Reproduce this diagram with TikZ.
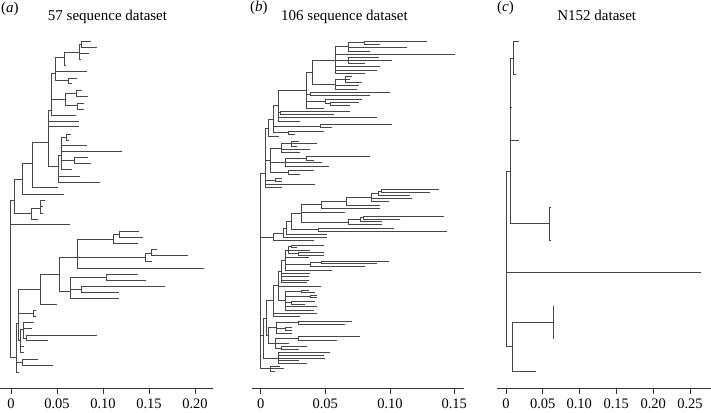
\documentclass[tikz,border=0pt]{standalone}
\usepackage{fontspec}
\setmainfont{Liberation Serif}
\tikzset{
  tr/.style={draw=black!72, line width=0.65pt, line cap=rect},
  ax/.style={draw=black!80, line width=0.6pt},
  tk/.style={font=\fontsize{14.5}{16}\selectfont, anchor=base, inner sep=0pt},
  ttl/.style={font=\fontsize{15}{18}\selectfont, anchor=base, inner sep=0pt},
  plab/.style={font=\fontsize{15}{18}\selectfont, anchor=base west, inner sep=0pt}
}
% horizontal: y, x1, x2 ; vertical: x, y1, y2
\newcommand\TrH[3]{\draw[tr] (#2,#1) -- (#3,#1);}
\newcommand\TrV[3]{\draw[tr] (#1,#2) -- (#1,#3);}
\begin{document}
\begin{tikzpicture}[x=1pt,y=-1pt]
\useasboundingbox (0,0) rectangle (711,412);

% ---------------- titles ----------------
\node[plab] (la) at (1,13) {(\textit{a})};
\node[ttl] (ta) at (107.5,20.5) {57 sequence dataset};
\node[plab] (lb) at (250,12) {(\textit{b})};
\node[ttl] (tb) at (344.5,20.5) {106 sequence dataset};
\node[plab] (lc) at (497,12) {(\textit{c})};
\node[ttl] (tc) at (596.7,20.5) {N152 dataset};

% ---------------- axes ----------------
\draw[ax] (0,388) -- (213,388);
\foreach \v/\x [count=\i] in {0/11,0.05/57,0.10/103,0.15/149,0.20/195}{
  \draw[ax] (\x,388) -- (\x,393.5);
  \node[tk] (xa\i) at (\x,408.5) {\v};
}
\draw[ax] (251.7,388) -- (464,388);
\foreach \v/\x [count=\i] in {0/260.7,0.05/325.3,0.10/390,0.15/454.3}{
  \draw[ax] (\x,388) -- (\x,393.5);
  \node[tk] (xb\i) at (\x,408.5) {\v};
}
\draw[ax] (496.7,388) -- (710.5,388);
\foreach \v/\x [count=\i] in {0/506,0.05/542.7,0.10/579.3,0.15/616.3,0.20/653.3,0.25/690}{
  \draw[ax] (\x,388) -- (\x,393.5);
  \node[tk] (xc\i) at (\x,408.5) {\v};
}

% ================= panel (a) =================
\TrV{10}{200}{357}
\TrH{200}{10}{14}
\TrV{14}{179}{213}
\TrH{179}{14}{22.3}
\TrV{22.3}{163}{194.3}
\TrH{194.3}{22.3}{63.3}
\TrH{163}{22.3}{32.3}
\TrV{32.3}{142}{187.7}
\TrH{187.7}{32.3}{57.7}
\TrH{142}{32.3}{48.3}
% T
\TrV{48.3}{110}{166.7}
\TrH{110}{48.3}{51.7}
\TrH{121}{48.3}{78.3}
\TrH{126}{48.3}{78.3}
\TrH{166.7}{48.3}{58.3}
\TrV{51.7}{73.3}{115}
\TrH{115}{51.7}{76}
\TrH{73.3}{51.7}{55}
\TrH{99}{51.7}{65}
% S1
\TrV{55}{57}{80.7}
\TrH{57}{55}{64.3}
\TrH{71.7}{55}{86.7}
\TrH{80.7}{55}{68.3}
\TrV{68.3}{78.3}{83.3}
\TrH{78.3}{68.3}{76.7}
\TrH{83.3}{68.3}{71.7}
% S2
\TrV{64.3}{52}{65.7}
\TrH{52}{64.3}{79}
\TrH{65.7}{64.3}{65.5}
\TrV{79}{44.5}{59.3}
\TrH{44.5}{79}{81}
\TrH{53.3}{79}{88.3}
\TrH{59.3}{79}{80.7}
\TrV{81}{41}{47.7}
\TrH{41}{81}{90.7}
\TrH{47.7}{81}{96.7}
% S3
\TrV{65}{93.3}{105.7}
\TrH{93.3}{65}{76.7}
\TrV{76.7}{90}{96.7}
\TrH{90}{76.7}{81.7}
\TrH{96.7}{76.7}{87.3}
\TrH{105.7}{65}{77.7}
\TrV{77.7}{103.3}{109}
\TrH{103.3}{77.7}{84}
\TrH{109}{77.7}{84}
% U
\TrV{58.3}{155}{182.3}
\TrH{155}{58.3}{61.7}
\TrH{176.7}{58.3}{80}
\TrH{182.3}{58.3}{100}
\TrV{61.7}{137}{169.3}
\TrH{137}{61.7}{66.7}
\TrV{66.7}{134}{140}
\TrH{134}{66.7}{71}
\TrH{140}{66.7}{68.3}
\TrH{145}{61.7}{86.7}
\TrH{151.7}{61.7}{121.7}
\TrH{160.5}{61.7}{74}
\TrV{74}{157.7}{163.3}
\TrH{157.7}{74}{87.3}
\TrH{163.3}{74}{90.7}
\TrH{169.3}{61.7}{71.7}
% N1 lower
\TrH{213}{14}{31.7}
\TrV{31.7}{208}{219}
\TrH{208}{31.7}{40.7}
\TrV{40.7}{200}{213}
\TrH{200}{40.7}{45}
\TrH{206}{40.7}{42.3}
\TrH{213}{40.7}{43}
\TrH{219}{31.7}{37.3}
\TrH{224}{10}{69.3}
% L
\TrH{357}{10}{16}
\TrV{16}{323}{372}
\TrH{372}{16}{18.3}
\TrH{362}{16}{22.7}
\TrV{22.7}{359}{365}
\TrH{359}{22.7}{37.3}
\TrH{365}{22.7}{52.3}
\TrH{323}{16}{18.3}
% M
\TrV{18.3}{289}{340}
\TrH{313}{18.3}{33.3}
\TrV{33.3}{310.7}{316.7}
\TrH{310.7}{33.3}{36}
\TrH{316.7}{33.3}{36}
\TrH{340}{18.3}{20.7}
\TrV{20.7}{329}{352.7}
\TrH{346.7}{20.7}{23.3}
\TrH{352.7}{20.7}{23.3}
\TrH{329}{20.7}{23.3}
\TrV{23.3}{322.7}{338}
\TrH{322.7}{23.3}{33.3}
\TrH{328.3}{23.3}{31.7}
\TrH{338}{23.3}{26.7}
\TrV{26.7}{335}{340.7}
\TrH{335}{26.7}{96.7}
\TrH{340.7}{26.7}{47.7}
% B
\TrH{289}{18.3}{40}
\TrV{40}{274}{304.3}
\TrH{304.3}{40}{56.7}
\TrH{274}{40}{59.3}
\TrV{59.3}{257}{291}
\TrH{257}{59.3}{77.3}
\TrV{77.3}{239}{268}
\TrH{239}{77.3}{113.3}
\TrV{113.3}{234}{243.3}
\TrH{234}{113.3}{119}
\TrV{119}{231}{237}
\TrH{231}{119}{138.3}
\TrH{237}{119}{142.7}
\TrH{243.3}{113.3}{137.7}
\TrH{257}{77.3}{145}
\TrV{145}{253}{261.7}
\TrH{253}{145}{151.7}
\TrV{151.7}{249.3}{255}
\TrH{249.3}{151.7}{156.7}
\TrH{255}{151.7}{187.3}
\TrH{261.7}{145}{151.7}
\TrH{268}{77.3}{204}
\TrH{291}{59.3}{70}
\TrV{70}{277}{298.3}
\TrH{277}{70}{106}
\TrV{106}{274}{280}
\TrH{274}{106}{137.7}
\TrH{280}{106}{145.7}
\TrH{289}{70}{81.7}
\TrV{81.7}{286}{292}
\TrH{286}{81.7}{165}
\TrH{292}{81.7}{119}
\TrH{298.3}{70}{119}

% ================= panel (b) =================
\TrV{260.7}{173}{368.3}
\TrH{173}{260.7}{265}
% upper group
\TrV{364.3}{41}{44.3}
\TrH{41}{364.3}{427}
\TrH{44.3}{364.3}{380}
\TrV{348.3}{42.7}{51}
\TrH{42.7}{348.3}{364.3}
\TrH{47.7}{348.3}{407}
\TrH{51}{348.3}{370}
\TrV{348.3}{57.7}{63.3}
\TrH{57.7}{348.3}{378.3}
\TrH{60}{348.3}{391.7}
\TrH{63.3}{348.3}{365}
\TrV{335}{46.8}{73.3}
\TrH{46.8}{335}{348.3}
\TrH{54.3}{335}{455}
\TrH{60.5}{335}{348.3}
\TrH{66.7}{335}{380}
\TrH{70}{335}{376.7}
\TrH{73.3}{335}{365}
\TrV{345}{76.7}{82.7}
\TrH{76.7}{345}{351.7}
\TrH{79.3}{345}{350}
\TrH{82.7}{345}{361.7}
\TrV{335}{79.3}{89}
\TrH{79.3}{335}{345}
\TrH{85.7}{335}{358.3}
\TrH{89}{335}{356.7}
\TrV{312.3}{60}{84}
\TrH{60}{312.3}{335}
\TrH{84}{312.3}{335}
\TrV{310}{92.3}{95.7}
\TrH{92.3}{310}{390}
\TrH{95.7}{310}{370}
\TrV{330}{102.3}{105}
\TrH{102.3}{330}{358.3}
\TrH{105}{330}{350}
\TrV{325}{99}{103.7}
\TrH{99}{325}{361.7}
\TrH{103.7}{325}{330}
\TrV{306.7}{72}{108.3}
\TrH{72}{306.7}{312.3}
\TrH{94}{306.7}{310}
\TrH{101.3}{306.7}{325}
\TrH{108.3}{306.7}{323.3}
\TrV{280}{111}{114.3}
\TrH{111}{280}{350}
\TrH{114.3}{280}{333.3}
\TrV{278.3}{90}{121}
\TrH{90}{278.3}{306.7}
\TrH{112.7}{278.3}{280}
\TrH{117.7}{278.3}{376.7}
\TrH{121}{278.3}{300}
\TrV{320}{124.3}{127.7}
\TrH{124.3}{320}{391.7}
\TrH{127.7}{320}{331.7}
\TrV{288.3}{131}{134.3}
\TrH{131}{288.3}{323.3}
\TrH{134.3}{288.3}{295}
\TrV{273.3}{105}{132.7}
\TrH{105}{273.3}{278.3}
\TrH{126}{273.3}{320}
\TrH{132.7}{273.3}{288.3}
\TrV{268.3}{119}{136.7}
\TrH{119}{268.3}{273.3}
\TrH{136.7}{268.3}{278.3}
\TrV{291.7}{141}{146}
\TrH{141}{291.7}{298.3}
\TrH{143.3}{291.7}{316.7}
\TrH{146}{291.7}{296.7}
\TrV{281.7}{143.5}{152.7}
\TrH{143.5}{281.7}{291.7}
\TrH{149.3}{281.7}{310}
\TrH{152.7}{281.7}{300}
\TrV{306.7}{156.7}{160}
\TrH{156.7}{306.7}{370}
\TrH{160}{306.7}{313.3}
\TrV{285}{158.3}{166}
\TrH{158.3}{285}{306.7}
\TrH{162.7}{285}{321.7}
\TrH{166}{285}{328.3}
\TrV{288.3}{170}{174.3}
\TrH{170}{288.3}{313.3}
\TrH{174.3}{288.3}{300}
\TrV{270}{148}{172}
\TrH{148}{270}{281.7}
\TrH{162}{270}{285}
\TrH{172}{270}{288.3}
\TrV{275}{178.3}{181.7}
\TrH{178.3}{275}{281.7}
\TrH{181.7}{275}{281.7}
\TrV{265}{128}{187.7}
\TrH{128}{265}{268.3}
\TrH{160}{265}{270}
\TrH{180}{265}{275}
\TrH{184.3}{265}{315}
\TrH{187.7}{265}{281.7}
% middle group
\TrV{381.7}{189.7}{192.3}
\TrH{189.7}{381.7}{438.3}
\TrH{192.3}{381.7}{430}
\TrV{378.3}{191}{195}
\TrH{191}{378.3}{381.7}
\TrH{195}{378.3}{410}
\TrV{371.7}{193}{201.3}
\TrH{193}{371.7}{378.3}
\TrH{198}{371.7}{411.7}
\TrH{201.3}{371.7}{388.3}
\TrV{346.7}{197}{205}
\TrH{197}{346.7}{371.7}
\TrH{205}{346.7}{380}
\TrV{321.7}{201}{208.3}
\TrH{201}{321.7}{346.7}
\TrH{208.3}{321.7}{380}
\TrV{363.3}{216.3}{219}
\TrH{216.3}{363.3}{443.3}
\TrH{219}{363.3}{400}
\TrV{360}{217.7}{221.7}
\TrH{217.7}{360}{363.3}
\TrH{221.7}{360}{381.7}
\TrV{348.3}{219.7}{224.7}
\TrH{219.7}{348.3}{360}
\TrH{224.7}{348.3}{381.7}
\TrV{318.3}{228.3}{231.3}
\TrH{228.3}{318.3}{393.3}
\TrH{231.3}{318.3}{446.7}
\TrV{301.7}{204.7}{222}
\TrH{204.7}{301.7}{321.7}
\TrH{212.5}{301.7}{345}
\TrH{222}{301.7}{348.3}
\TrV{291.7}{213}{229.8}
\TrH{213}{291.7}{301.7}
\TrH{229.8}{291.7}{318.3}
\TrV{286.7}{221}{234.7}
\TrH{221}{286.7}{291.7}
\TrH{234.7}{286.7}{326.7}
\TrV{283}{228}{237.7}
\TrH{228}{283}{286.7}
\TrH{237.7}{283}{326.7}
\TrV{273.3}{233}{240.7}
\TrH{233}{273.3}{283}
\TrH{240.7}{273.3}{313.3}
\TrH{237.3}{260.7}{273.3}
% lower group
\TrV{291.7}{245}{247.3}
\TrH{245}{291.7}{323.3}
\TrH{247.3}{291.7}{296.7}
\TrV{298.3}{252.3}{255}
\TrH{252.3}{298.3}{323.3}
\TrH{255}{298.3}{323.3}
\TrV{288.3}{246.2}{253.7}
\TrH{246.2}{288.3}{291.7}
\TrH{250}{288.3}{310}
\TrH{253.7}{288.3}{298.3}
\TrV{321.7}{261}{263.3}
\TrH{261}{321.7}{388.3}
\TrH{263.3}{321.7}{376.7}
\TrV{310}{262.2}{266.7}
\TrH{262.2}{310}{321.7}
\TrH{266.7}{310}{365}
\TrV{285}{250}{270}
\TrH{250}{285}{288.3}
\TrH{257.7}{285}{308.3}
\TrH{264.4}{285}{310}
\TrH{270}{285}{331.7}
\TrV{281.7}{260}{282.7}
\TrH{260}{281.7}{285}
\TrH{273.3}{281.7}{310}
\TrH{276.7}{281.7}{308.3}
\TrH{280}{281.7}{308.3}
\TrH{282.7}{281.7}{306.7}
\TrV{301.7}{290}{292.3}
\TrH{290}{301.7}{308.3}
\TrH{292.3}{301.7}{315}
\TrV{310}{295}{297.7}
\TrH{295}{310}{316.7}
\TrH{297.7}{310}{316.7}
\TrV{291.7}{301}{304}
\TrH{301}{291.7}{315}
\TrH{304}{291.7}{305}
\TrV{285}{291.2}{310}
\TrH{291.2}{285}{301.7}
\TrH{296.3}{285}{310}
\TrH{302.5}{285}{291.7}
\TrH{306.7}{285}{316.7}
\TrH{310}{285}{313.3}
\TrV{278.3}{271}{300}
\TrH{271}{278.3}{281.7}
\TrH{286.7}{278.3}{321}
\TrH{300}{278.3}{285}
\TrV{273.3}{285}{316.7}
\TrH{285}{273.3}{278.3}
\TrH{313.3}{273.3}{316.7}
\TrH{316.7}{273.3}{300}
\TrV{298.3}{321}{324}
\TrH{321}{298.3}{351.7}
\TrH{324}{298.3}{345}
\TrV{285}{327.3}{330}
\TrH{327.3}{285}{291.7}
\TrH{330}{285}{291.7}
\TrV{276.7}{322.5}{333.3}
\TrH{322.5}{276.7}{298.3}
\TrH{328.7}{276.7}{285}
\TrH{333.3}{276.7}{291.7}
\TrV{298.3}{336.7}{340}
\TrH{336.7}{298.3}{360}
\TrH{340}{298.3}{336.7}
\TrV{281.7}{346.7}{349.3}
\TrH{346.7}{281.7}{306.7}
\TrH{349.3}{281.7}{298.3}
\TrV{275}{338.3}{348}
\TrH{338.3}{275}{298.3}
\TrH{343.3}{275}{288.3}
\TrH{348}{275}{281.7}
\TrV{268.3}{327}{343}
\TrH{327}{268.3}{276.7}
\TrH{343}{268.3}{275}
\TrV{266}{300}{335}
\TrH{300}{266}{273.3}
\TrH{335}{266}{268.3}
\TrV{278.3}{352.7}{363.3}
\TrH{352.7}{278.3}{330}
\TrH{355.7}{278.3}{323.3}
\TrH{358.3}{278.3}{325}
\TrH{360.7}{278.3}{298.3}
\TrH{363.3}{278.3}{306.7}
\TrV{263.3}{318}{358}
\TrH{318}{263.3}{266}
\TrH{358}{263.3}{278.3}
\TrH{335}{260.7}{263.3}
\TrV{270}{366}{371.7}
\TrH{366}{270}{280}
\TrH{368.3}{270}{283.3}
\TrH{371.7}{270}{275}
\TrH{368.3}{260.7}{270}

% ================= panel (c) =================
\TrV{510}{58.3}{223.3}
\TrH{58.3}{510}{513.3}
\TrV{513.3}{41.7}{74}
\TrH{41.7}{513.3}{518.3}
\TrH{74}{513.3}{516}
\TrH{107.3}{510}{511.5}
\TrH{140.7}{510}{518.3}
\TrH{223.3}{510}{549.3}
\TrV{549.3}{207.3}{240}
\TrH{207.3}{549.3}{550.5}
\TrH{240}{549.3}{550.5}
\TrH{171.7}{506.7}{510}
\TrV{506.7}{171.7}{346.7}
\TrH{272.7}{506.7}{700.7}
\TrH{346.7}{506.7}{512.3}
\TrV{512.3}{322.7}{371.7}
\TrH{322.7}{512.3}{553.3}
\TrV{553.3}{306}{338.3}
\TrH{371.7}{512.3}{535.7}
\end{tikzpicture}
\end{document}
